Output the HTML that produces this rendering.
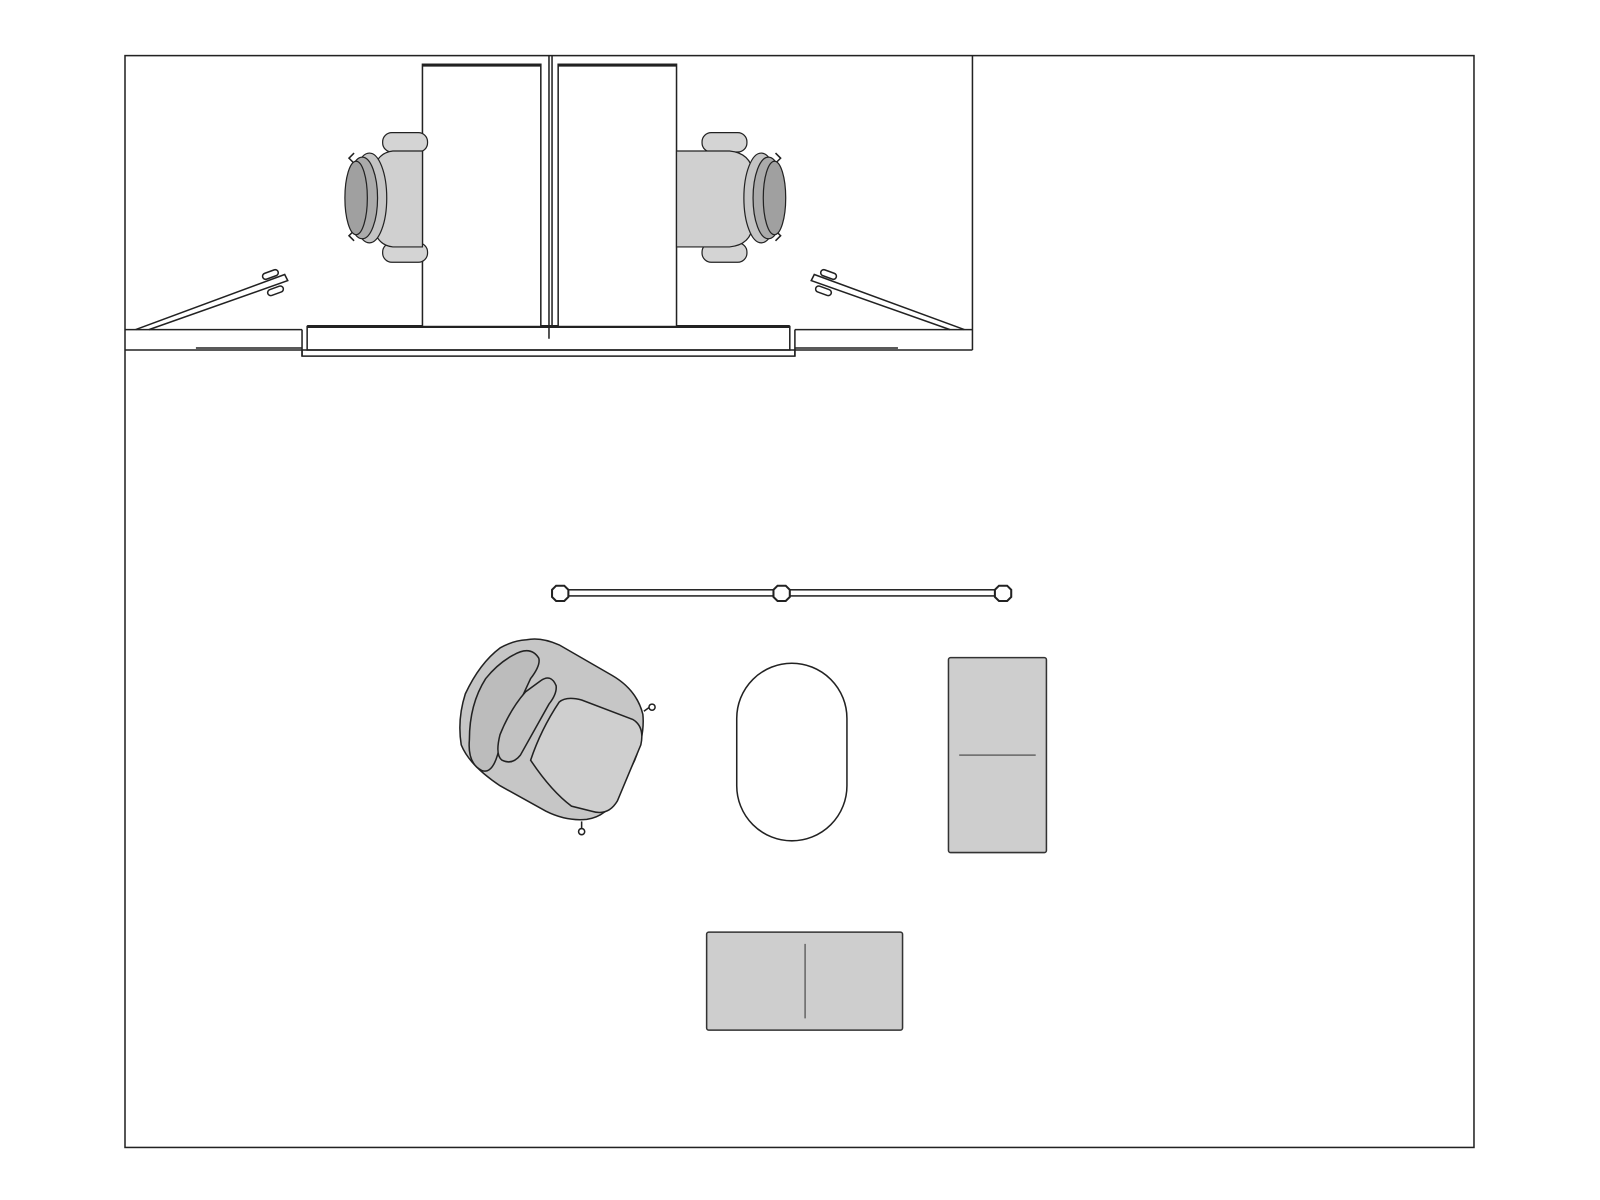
<!DOCTYPE html>
<html><head><style>html,body{margin:0;padding:0;background:#fff}svg{display:block}</style></head>
<body>
<svg width="1600" height="1200" viewBox="0 0 1568 1176" xmlns="http://www.w3.org/2000/svg">
<defs>
<g id="chairL">
  <rect x="375" y="130" width="44" height="19" rx="9" fill="#d4d4d4" stroke="#222" stroke-width="1.2"/>
  <rect x="375" y="238" width="44" height="19" rx="9" fill="#d4d4d4" stroke="#222" stroke-width="1.2"/>
  <path d="M414,148 L385,148 Q368,150 366,170 L366,220 Q368,240 385,242 L414,242 Z" fill="#d0d0d0" stroke="#222" stroke-width="1.2"/>
  <path d="M347,150 l-5,5 l4,4 M347,236 l-5,-5 l4,-4" fill="none" stroke="#222" stroke-width="1.5"/>
  <ellipse cx="362" cy="194" rx="17" ry="44" fill="#c4c4c4" stroke="#222" stroke-width="1.2"/>
  <ellipse cx="355" cy="194" rx="15" ry="40" fill="#aaaaaa" stroke="#222" stroke-width="1.2"/>
  <ellipse cx="349" cy="194" rx="11" ry="36" fill="#a0a0a0" stroke="#222" stroke-width="1.2"/>
</g>
<g id="chairR">
  <rect x="688" y="130" width="44" height="19" rx="9" fill="#d4d4d4" stroke="#222" stroke-width="1.2"/>
  <rect x="688" y="238" width="44" height="19" rx="9" fill="#d4d4d4" stroke="#222" stroke-width="1.2"/>
  <path d="M663,148 L715,148 Q736,150 738,170 L738,220 Q736,240 715,242 L663,242 Z" fill="#d0d0d0" stroke="#222" stroke-width="1.2"/>
  <path d="M760,150 l5,5 l-4,4 M760,236 l5,-5 l-4,-4" fill="none" stroke="#222" stroke-width="1.5"/>
  <ellipse cx="746" cy="194" rx="17" ry="44" fill="#c4c4c4" stroke="#222" stroke-width="1.2"/>
  <ellipse cx="753" cy="194" rx="15" ry="40" fill="#aaaaaa" stroke="#222" stroke-width="1.2"/>
  <ellipse cx="759" cy="194" rx="11" ry="36" fill="#a0a0a0" stroke="#222" stroke-width="1.2"/>
</g>
</defs>
<rect x="0" y="0" width="1568" height="1176" fill="#fff"/>
<g fill="none" stroke="#222" stroke-width="1.5">
  <rect x="122.5" y="54.5" width="1322" height="1070"/>
  <line x1="953" y1="54" x2="953" y2="343"/>
  <line x1="122" y1="343" x2="296" y2="343"/>
  <line x1="779" y1="343" x2="953" y2="343"/>
  <line x1="122" y1="323" x2="296" y2="323"/>
  <line x1="296" y1="323" x2="296" y2="349"/>
  <line x1="779" y1="323" x2="953" y2="323"/>
  <line x1="779" y1="323" x2="779" y2="349"/>
  <line x1="192" y1="341" x2="296" y2="341"/>
  <line x1="779" y1="341" x2="880" y2="341"/>
  <rect x="296" y="343" width="483" height="6"/>
  <rect x="301" y="320" width="473" height="23"/>
  <line x1="301" y1="320" x2="774" y2="320" stroke-width="3"/>
  <rect x="414" y="63" width="116" height="257" fill="#fff"/>
  <rect x="547" y="63" width="116" height="257" fill="#fff"/>
  <line x1="414" y1="64" x2="530" y2="64" stroke-width="2.5"/>
  <line x1="547" y1="64" x2="663" y2="64" stroke-width="2.5"/>
  <line x1="538" y1="54" x2="538" y2="332"/>
  <line x1="541" y1="54" x2="541" y2="320"/>
  <path d="M133,323 L279,269 L282,275 L146,323"/>
  <rect x="257" y="266" width="16" height="6" rx="3" transform="rotate(-20 265 269)"/>
  <rect x="262" y="282" width="16" height="6" rx="3" transform="rotate(-20 270 285)"/>
  <path d="M945,323 L798,269 L795,275 L931,323"/>
  <rect x="804" y="266" width="16" height="6" rx="3" transform="rotate(20 812 269)"/>
  <rect x="799" y="282" width="16" height="6" rx="3" transform="rotate(20 807 285)"/>
</g>
<use href="#chairL"/>
<use href="#chairR"/>
<g stroke="#222" stroke-width="1.5" fill="#fff">
  <rect x="549" y="578" width="434" height="6"/>
  <polygon points="545,574 553,574 557,578 557,585 553,589 545,589 541,585 541,578" stroke-width="2"/>
  <polygon points="762,574 770,574 774,578 774,585 770,589 762,589 758,585 758,578" stroke-width="2"/>
  <polygon points="979,574 987,574 991,578 991,585 987,589 979,589 975,585 975,578" stroke-width="2"/>
</g>
<g stroke="#222" stroke-width="1.5">
  <path d="M516,627 Q530,624 548,632 L600,662 Q624,676 630,700 Q632,720 622,745 L605,780 Q595,800 575,803 Q555,805 535,795 L490,770 Q460,750 452,730 Q448,705 456,680 Q470,650 490,635 Q502,628 516,627 Z" fill="#c6c6c6"/>
  <path d="M503,642 Q520,632 528,645 Q530,652 520,665 L490,730 Q484,760 472,755 Q458,748 460,725 Q460,690 476,665 Q488,650 503,642 Z" fill="#bcbcbc"/>
  <path d="M530,667 Q540,660 545,672 Q546,680 538,690 L510,740 Q502,750 492,745 Q485,740 490,720 Q500,695 515,678 Z" fill="#c2c2c2"/>
  <path d="M548,688 Q555,682 570,686 L620,705 Q632,712 628,730 L605,785 Q596,800 580,795 L560,790 Q540,775 520,745 Q530,715 548,688 Z" fill="#cfcfcf"/>
  <path d="M631,697 L638,692" fill="none"/><circle cx="639" cy="693" r="3" fill="#fff"/>
  <path d="M570,805 L570,813" fill="none"/><circle cx="570" cy="815" r="3" fill="#fff"/>
</g>
<rect x="722" y="650" width="108" height="174" rx="54" ry="54" fill="#fff" stroke="#222" stroke-width="1.5"/>
<g stroke="#333" stroke-width="1.5">
  <rect x="929.5" y="644.5" width="96" height="191" rx="2" fill="#cecece"/>
  <line x1="940" y1="740" x2="1015" y2="740" stroke="#666"/>
  <rect x="692.5" y="913.5" width="192" height="96" rx="2" fill="#cecece"/>
  <line x1="789" y1="925" x2="789" y2="998" stroke="#666"/>
</g>
</svg>
</body></html>
